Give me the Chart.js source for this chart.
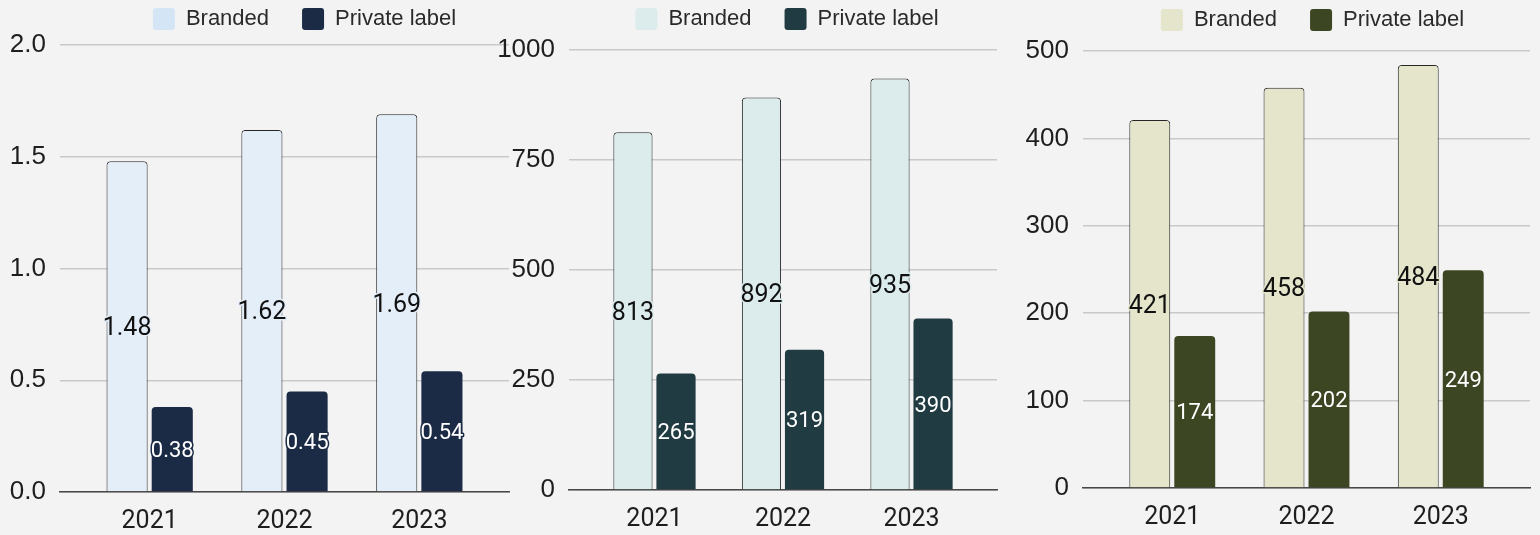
<!DOCTYPE html>
<html>
<head>
<meta charset="utf-8">
<title>Branded vs private label</title>
<script src="https://cdn.jsdelivr.net/npm/chart.js@4.4.1/dist/chart.umd.min.js"></script>
<style>
  html, body { margin: 0; padding: 0; background: #f3f3f3; }
  #wrap { position: relative; width: 1540px; height: 535px; overflow: hidden; }
  #wrap canvas { position: absolute; top: 0; }
</style>
</head>
<body>
<div id="wrap">
  <canvas id="c1" width="520" height="535" style="left:0px"></canvas>
  <canvas id="c2" width="505" height="535" style="left:495px"></canvas>
  <canvas id="c3" width="525" height="535" style="left:1015px"></canvas>
</div>
<script>
// categories and series
var years = [2021, 2022, 2023];
var seriesNames = ['Branded', 'Private label'];

var brandedA = [1.48, 1.62, 1.69];
var privateA = [0.38, 0.45, 0.54];
var ticksA = [0, 0.5, 1.0, 1.5, 2.0];

var brandedB = [813, 892, 935];
var privateB = [265, 319, 390];
var ticksB = [0, 250, 500, 750, 1000];

var brandedC = [421, 458, 484];
var privateC = [174, 202, 249];
var ticksC = [0, 100, 200, 300, 400, 500];

// extra room either side of the first/last year, in categories
var sidePad = 0.665;

Chart.defaults.color = '#222';
Chart.defaults.font.family = 'Roboto, sans-serif';
Chart.defaults.animation = false;

// move the legend row after layout (keeps the plot area where it is)
var legendNudge = {
  id: 'legendNudge',
  afterLayout: function(chart, args, opts) {
    var lg = chart.legend;
    if (!lg) return;
    var dx = opts.dx || 0, dy = opts.dy || 0;
    lg.left += dx; lg.right += dx;
    lg.top += dy; lg.bottom += dy;
  }
};

// value written in the middle of every bar, with a halo in the bar colour
var barLabels = {
  id: 'barLabels',
  afterDatasetsDraw: function(chart, args, opts) {
    var ctx = chart.ctx;
    chart.data.datasets.forEach(function(ds, i) {
      var meta = chart.getDatasetMeta(i);
      var size = opts.sizes[i];
      meta.data.forEach(function(bar, j) {
        var p = bar.getProps(['x', 'y', 'base'], true);
        var txt = String(ds.data[j]);
        // digits centred on the bar's midpoint
        var baseY = (p.y + p.base) / 2 + size * 0.355;
        ctx.save();
        ctx.font = size + 'px Roboto';
        ctx.textAlign = 'center';
        ctx.textBaseline = 'alphabetic';
        ctx.lineJoin = 'round';
        ctx.lineWidth = 3;
        ctx.strokeStyle = ds.backgroundColor;
        ctx.strokeText(txt, p.x, baseY);
        ctx.fillStyle = opts.colors[i];
        ctx.fillText(txt, p.x, baseY);
        ctx.restore();
      });
    });
  }
};

function makeChart(id, cfg) {
  var el = document.getElementById(id);
  return new Chart(el, {
    type: 'bar',
    data: {
      labels: years,
      datasets: [{
        label: seriesNames[0],
        data: cfg.branded,
        backgroundColor: cfg.colors[0],
        borderColor: '#262626',
        borderWidth: 1,
        borderRadius: 4,
        categoryPercentage: 0.67,
        barPercentage: 0.91
      }, {
        label: seriesNames[1],
        data: cfg.priv,
        backgroundColor: cfg.colors[1],
        borderWidth: 0,
        borderRadius: 4,
        categoryPercentage: 0.67,
        barPercentage: 0.91
      }]
    },
    options: {
      responsive: false,
      layout: { padding: { top: cfg.padTop, right: cfg.padRight, left: 0, bottom: 0 } },
      scales: {
        x: {
          type: 'linear',
          bounds: 'data',
          offset: false,
          min: years[0] - sidePad,
          max: years[years.length - 1] + sidePad,
          grid: { display: false, drawTicks: false },
          border: { display: true, color: '#474747', width: 1.5 },
          ticks: {
            padding: 15,
            maxRotation: 0,
            autoSkip: false,
            font: { size: 25 },
            color: '#1e1e1e',
            callback: function(v) { return String(v); }
          },
          afterBuildTicks: function(s) {
            s.ticks = years.map(function(v) { return { value: v }; });
          },
          afterFit: function(s) { s.height = cfg.xHeight; }
        },
        y: {
          min: cfg.ticks[0],
          max: cfg.ticks[cfg.ticks.length - 1],
          grid: { color: '#c9c9c9', lineWidth: 1.5, drawTicks: false },
          border: { display: false },
          ticks: {
            padding: 14,
            font: { family: '"Liberation Sans", Arial, sans-serif', size: 26 },
            color: '#1e1e1e',
            callback: function(v) { return cfg.fmt(v); }
          },
          afterBuildTicks: function(s) {
            s.ticks = cfg.ticks.map(function(v) { return { value: v }; });
          },
          afterFit: function(s) { s.width = cfg.yWidth; }
        }
      },
      plugins: {
        tooltip: { enabled: false },
        legend: {
          position: 'top',
          labels: {
            boxWidth: 22,
            boxHeight: 22,
            padding: 33,
            useBorderRadius: true,
            borderRadius: 3,
            color: '#2a2a2a',
            font: { family: '"Liberation Sans", Arial, sans-serif', size: 22 },
            generateLabels: function(chart) {
              var items = Chart.defaults.plugins.legend.labels.generateLabels(chart);
              items.forEach(function(it, k) {
                it.fillStyle = cfg.legendColors[k];
                it.lineWidth = 0;
                it.strokeStyle = 'rgba(0,0,0,0)';
              });
              return items;
            }
          }
        },
        legendNudge: { dx: cfg.legendDx, dy: cfg.legendDy },
        barLabels: {
          colors: ['#111111', '#ffffff'],
          sizes: [25, 22]
        }
      }
    },
    plugins: [legendNudge, barLabels]
  });
}

makeChart('c1', {
  branded: brandedA, priv: privateA, ticks: ticksA,
  fmt: function(v) { return v.toFixed(1); },
  colors: ['#e4eef9', '#1b2b45'],
  legendColors: ['#d4e6f6', '#1b2b45'],
  padTop: -20, padRight: 11, yWidth: 60, xHeight: 43,
  legendDx: 50, legendDy: -5
});

makeChart('c2', {
  branded: brandedB, priv: privateB, ticks: ticksB,
  fmt: function(v) { return String(v); },
  colors: ['#dcecec', '#213b42'],
  legendColors: ['#dcecec', '#213b42'],
  padTop: -15, padRight: 3, yWidth: 74, xHeight: 45,
  legendDx: 41, legendDy: -10
});

makeChart('c3', {
  branded: brandedC, priv: privateC, ticks: ticksC,
  fmt: function(v) { return String(v); },
  colors: ['#e5e5cb', '#3d4623'],
  legendColors: ['#e5e5cb', '#3d4623'],
  padTop: -14, padRight: 10, yWidth: 68, xHeight: 47,
  legendDx: 40, legendDy: -10
});
</script>
</body>
</html>
